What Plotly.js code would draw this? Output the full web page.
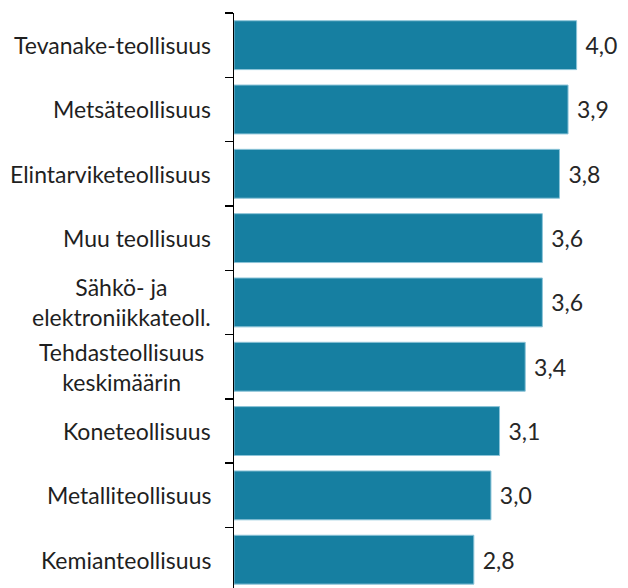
<!DOCTYPE html>
<html><head><meta charset="utf-8">
<script src="https://cdn.plot.ly/plotly-3.0.1.min.js"></script>
<style>html,body{margin:0;padding:0;background:#fff}#chart{width:628px;height:588px}</style>
</head><body><div id="chart"></div>
<script>
const categories = ["Tevanake-teollisuus","Metsäteollisuus","Elintarviketeollisuus","Muu teollisuus","Sähkö- ja<br>elektroniikkateoll.","Tehdasteollisuus<br>keskimäärin","Koneteollisuus","Metalliteollisuus","Kemianteollisuus"];
const values = [4.0, 3.9, 3.8, 3.6, 3.6, 3.4, 3.1, 3.0, 2.8];

const FONT = "Lato, 'Open Sans', sans-serif";
const trace = {
  type: 'bar', orientation: 'h',
  y: categories, x: values,
  marker: {color: '#167fa1', line: {color: '#8cc4d8', width: 1}},
  width: 0.76,
  texttemplate: '\u00a0%{x:.1f}', textposition: 'outside', cliponaxis: false,
  textfont: {family: FONT, size: 23, color: '#262626'},
  hoverinfo: 'none'
};
const annotations = categories.map((c, i) => ({
  xref: 'paper', yref: 'y', x: 0, y: c, xanchor: 'right', yanchor: 'middle',
  xshift: -21 + (i === 5 ? -7 : 0), text: c, showarrow: false, align: 'center',
  font: {family: FONT, size: 23, color: '#1f1f1f'}
}));
const layout = {
  width: 628, height: 588,
  margin: {l: 234, r: 0, t: 13, b: 0, pad: 0},
  paper_bgcolor: '#fff', plot_bgcolor: '#fff',
  separators: ',.',
  showlegend: false, bargap: 0.24,
  xaxis: {range: [0, 4.6], visible: false, fixedrange: true},
  yaxis: {type: 'category', range: [categories.length - 0.56, -0.5], showline: true, linecolor: '#000', linewidth: 1.5,
          ticks: 'outside', tickson: 'boundaries', ticklen: 8, tickwidth: 1.5, tickcolor: '#000',
          showticklabels: false, showgrid: false, zeroline: false},
  annotations: annotations
};
Plotly.newPlot('chart', [trace], layout, {staticPlot: true});
</script></body></html>
